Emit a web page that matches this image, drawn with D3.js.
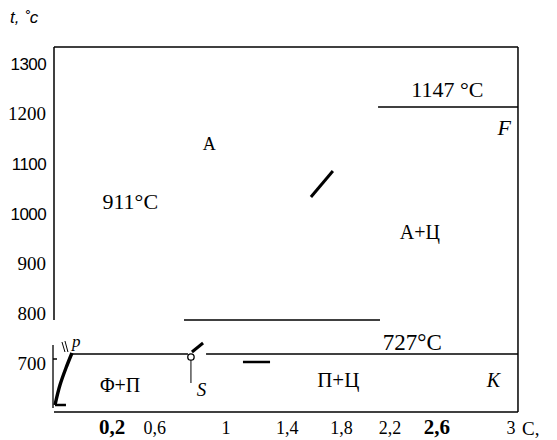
<!DOCTYPE html>
<html>
<head>
<meta charset="utf-8">
<script src="https://cdn.jsdelivr.net/npm/d3@7"></script>
<style>
  body { margin: 0; background: #fff; }
  text { fill: #000; }
</style>
</head>
<body>
<svg width="557" height="440"></svg>
<script>
const SERIF = "Liberation Serif";
const SANS = "Liberation Sans";

// y axis ticks (t, °C) and which face each label is set in
const yTicks = [1300, 1200, 1100, 1000, 900, 800, 700];
const yTickFont = ["sans", "serif", "sans", "sans", "serif", "serif", "serif"];

// x axis labels (% C) and where they sit along the carbon axis
const xLabels = ["0,2", "0,6", "1", "1,4", "1,8", "2,2", "2,6", "3"];
const xLabelAt = [0.2, 0.5, 1.0, 1.43, 1.81, 2.15, 2.48, 3.0];
const xLabelBold = [true, false, false, false, false, false, true, false];

// frame limits in chart units
const xMin = -0.207, xMax = 3.049;
const tMin = 604, tMax = 1334;

// straight lines of the diagram [x1, t1, x2, t2, width]
const lines = [
  [xMin, tMax, xMax, tMax, 1.5],       // top
  [xMin, tMax, xMin, 788, 1.5],        // left, upper part
  [xMax, tMax, xMax, tMin, 1.5],       // right
  [xMin, tMin, xMax, tMin, 1.5],       // bottom
  [2.067, 1214, xMax, 1214, 1.3],      // 1147
  [0.705, 788, 2.081, 788, 1.3],
  [-0.081, 720, 0.733, 720, 1.3],      // 727 left of S
  [0.86, 720, xMax, 720, 1.3],         // 727 right of S
  [-0.214, 738, -0.214, 612, 1.3],     // short left piece
  [-0.214, 710, -0.186, 710, 1.5],
  [-0.2, 618, -0.123, 618, 2.5],       // foot of PQ
  [-0.151, 744, -0.130, 724, 1],       // strokes near P
  [-0.130, 746, -0.109, 724, 1],
  [0.754, 714, 0.754, 662, 1],         // below S
  [0.761, 724, 0.839, 742, 3],
  [1.596, 1034, 1.75, 1086, 3],        // slash in A
  [1.119, 704, 1.309, 704, 2.5]
];

// the thick PQ curve
const curveX = [-0.2, -0.165, -0.123, -0.081];
const curveT = [618, 658, 692, 722];

// labels inside the field [text, x, t, size, style]
const labels = [
  ["A", 0.837, 1128, 18, "normal"],
  ["911°C", 0.133, 1010, 22, "normal"],
  ["1147 °C", 2.3, 1234, 22, "normal"],
  ["F", 2.905, 1158, 22, "italic"],
  ["A+Ц", 2.22, 950, 20, "normal"],
  ["727°C", 2.1, 728, 23, "normal"],
  ["Φ+Π", 0.115, 644, 20, "normal"],
  ["П+Ц", 1.64, 654, 21, "normal"],
  ["K", 2.83, 654, 20, "italic"],
  ["S", 0.795, 636, 19, "italic"],
  ["p", -0.081, 734, 17, "italic"]
];

let svg = d3.select("svg");

let x = d3.scaleLinear().domain([0, 3]).range([83.5, 511]);
let y = d3.scaleLinear().domain([700, 1300]).range([364, 64]);

// axis title
svg.append("text")
  .attr("x", 10).attr("y", 23)
  .attr("font-family", SANS)
  .attr("font-size", 17).attr("font-style", "italic")
  .text("t, ˚c");

// y tick labels
svg.selectAll("text.ytick")
  .data(yTicks)
  .join("text")
  .attr("class", "ytick")
  .attr("x", 46)
  .attr("y", d => y(d) + 6)
  .attr("text-anchor", "end")
  .attr("font-family", (d, i) => yTickFont[i] == "sans" ? SANS : SERIF)
  .attr("font-size", (d, i) => yTickFont[i] == "sans" ? 17 : 19)
  .attr("letter-spacing", (d, i) => yTickFont[i] == "sans" ? -0.6 : 0)
  .text(d => d);

// x tick labels
svg.selectAll("text.xtick")
  .data(xLabels)
  .join("text")
  .attr("class", "xtick")
  .attr("x", (d, i) => x(xLabelAt[i]))
  .attr("y", 434)
  .attr("text-anchor", "middle")
  .attr("font-family", SERIF)
  .attr("font-size", (d, i) => xLabelBold[i] ? 21 : 18)
  .attr("font-weight", (d, i) => xLabelBold[i] ? "bold" : "normal")
  .text(d => d);

svg.append("text")
  .attr("x", 522).attr("y", 435)
  .attr("font-family", SERIF)
  .attr("font-size", 19)
  .text("C,");

// diagram lines
svg.append("g").selectAll("line")
  .data(lines)
  .join("line")
  .attr("x1", d => x(d[0])).attr("y1", d => y(d[1]))
  .attr("x2", d => x(d[2])).attr("y2", d => y(d[3]))
  .attr("stroke", "#000")
  .attr("stroke-width", d => d[4]);

svg.append("path")
  .datum(curveX.map((v, i) => [v, curveT[i]]))
  .attr("d", d3.line().x(d => x(d[0])).y(d => y(d[1])).curve(d3.curveMonotoneY))
  .attr("fill", "none")
  .attr("stroke", "#000")
  .attr("stroke-width", 3.4);

// point S
svg.append("circle")
  .attr("cx", x(0.754)).attr("cy", y(714)).attr("r", 3.2)
  .attr("fill", "#fff").attr("stroke", "#000").attr("stroke-width", 1.3);

// phase labels
svg.selectAll("text.lab")
  .data(labels)
  .join("text")
  .attr("class", "lab")
  .attr("x", d => x(d[1]))
  .attr("y", d => y(d[2]))
  .attr("font-family", SERIF)
  .attr("font-size", d => d[3])
  .attr("font-style", d => d[4])
  .text(d => d[0]);
</script>
</body>
</html>
